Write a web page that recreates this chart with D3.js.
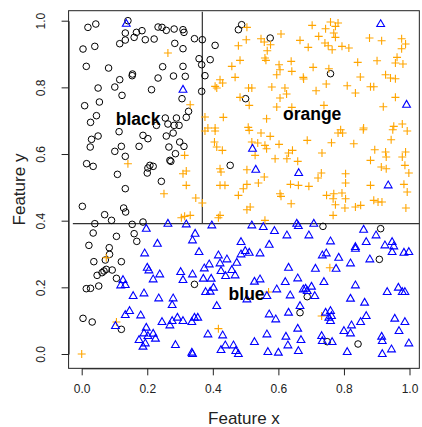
<!DOCTYPE html>
<html lang="en">
<head>
<meta charset="UTF-8">
<title>Feature scatter</title>
<style>
  body { margin: 0; background: #fff; }
  text { font-family: "Liberation Sans", Arial, sans-serif; }
</style>
</head>
<body>
<svg id="chart" width="422" height="427"></svg>
<script src="https://d3js.org/d3.v7.min.js"></script>
<script>

// points, [feature x, feature y]
let blackPts = [
  [0.019,0.98],[0.043,0.99],[0.141,1.0],[0.133,0.963],[0.167,0.965],[0.184,0.97],[0.16,0.95],[0.133,0.942],
  [0.116,0.931],[0.194,0.943],[0.221,0.945],[0.233,0.981],[0.245,0.98],[0.258,0.971],[0.282,0.975],[0.309,0.973],
  [0.312,0.965],[0.284,0.932],[0.309,0.916],[0.004,0.915],[0.04,0.923],[0.014,0.863],[0.082,0.858],[0.155,0.84],
  [0.154,0.835],[0.233,0.828],[0.247,0.862],[0.28,0.834],[0.309,0.863],[0.316,0.833],[0.116,0.823],[0.101,0.801],
  [0.05,0.798],[0.213,0.793],[0.306,0.766],[0.123,0.776],[0.054,0.756],[0.009,0.745],[0.045,0.715],[0.027,0.695],
  [0.255,0.708],[0.289,0.708],[0.319,0.71],[0.228,0.686],[0.263,0.69],[0.282,0.686],[0.297,0.686],
  [0.344,0.946],[0.368,0.943],[0.407,0.926],[0.358,0.886],[0.392,0.883],[0.366,0.868],[0.376,0.835],[0.366,0.788],
  [0.488,0.988],[0.478,0.973],[0.575,0.948],[0.5,0.766],[0.326,0.728],[0.759,0.841],
  [0.114,0.667],[0.05,0.654],[0.03,0.644],[0.026,0.621],[0.187,0.656],[0.202,0.646],[0.121,0.623],[0.101,0.608],
  [0.175,0.623],[0.258,0.654],[0.279,0.663],[0.299,0.636],[0.266,0.621],[0.312,0.623],[0.286,0.601],[0.133,0.593],
  [0.269,0.581],[0.272,0.578],[0.015,0.571],[0.035,0.563],[0.208,0.566],[0.218,0.563],[0.202,0.558],[0.2,0.543],
  [0.109,0.539],[0.243,0.518],[0.133,0.496],[0.002,0.443],[0.128,0.438],[0.134,0.426],[0.07,0.418],[0.04,0.391],
  [0.091,0.401],[0.154,0.389],[0.187,0.396],[0.035,0.363],[0.106,0.353],[0.16,0.361],[0.168,0.338],[0.022,0.326],
  [0.084,0.319],[0.453,0.566],[0.736,0.383],[0.912,0.376],
  [0.085,0.299],[0.072,0.282],[0.037,0.277],[0.121,0.277],[0.075,0.254],[0.068,0.249],[0.093,0.252],[0.062,0.244],
  [0.047,0.236],[0.106,0.227],[0.052,0.204],[0.027,0.197],[0.014,0.196],[0.004,0.107],[0.032,0.096],[0.121,0.074],
  [0.344,0.209],[0.666,0.124],[0.908,0.284],[0.688,0.172],[0.749,0.037],[0.843,0.03]
];

let orangePts = [
  [0.263,0.903],
  [0.504,0.98],[0.502,0.943],[0.478,0.925],[0.666,0.941],[0.547,0.946],[0.557,0.936],[0.576,0.928],[0.566,0.91],
  [0.608,0.96],[0.559,0.888],[0.562,0.881],[0.483,0.881],[0.458,0.863],[0.468,0.83],[0.602,0.868],[0.605,0.853],
  [0.639,0.878],[0.595,0.838],[0.641,0.848],[0.676,0.83],[0.422,0.823],[0.43,0.813],[0.407,0.803],[0.412,0.798],
  [0.509,0.798],[0.519,0.798],[0.58,0.801],[0.62,0.798],[0.625,0.78],[0.605,0.768],[0.595,0.741],[0.483,0.77],
  [0.511,0.746],[0.641,0.74],[0.331,0.748],[0.376,0.711],[0.432,0.71],[0.564,0.706],[0.385,0.678],[0.407,0.678],
  [0.508,0.68],
  [0.703,0.986],[0.759,0.996],[0.782,0.993],[0.774,0.983],[0.744,0.976],[0.769,0.963],[0.723,0.953],[0.774,0.95],
  [0.742,0.933],[0.752,0.925],[0.764,0.913],[0.691,0.92],[0.794,0.923],[0.815,0.918],[0.878,0.948],[0.915,0.94],
  [0.976,0.946],[0.988,0.93],[0.976,0.916],[0.962,0.89],[0.957,0.873],[0.98,0.87],[0.901,0.88],[0.842,0.875],
  [0.706,0.86],[0.754,0.856],[0.927,0.838],[0.942,0.828],[0.957,0.826],[0.85,0.831],[0.677,0.825],[0.746,0.81],
  [0.81,0.805],[0.881,0.802],[0.891,0.802],[0.835,0.783],[0.715,0.79],[0.957,0.77],[0.92,0.742],[0.739,0.746],
  [0.978,0.69],[0.952,0.683],[0.86,0.678],[0.79,0.673],
  [0.141,0.571],[0.314,0.596],[0.309,0.541],[0.319,0.549],[0.319,0.506],[0.251,0.481],[0.304,0.409],[0.314,0.413],
  [0.376,0.669],[0.407,0.669],[0.511,0.671],[0.547,0.663],[0.575,0.653],[0.519,0.636],[0.537,0.633],[0.559,0.626],
  [0.564,0.616],[0.602,0.629],[0.529,0.596],[0.405,0.636],[0.412,0.621],[0.429,0.611],[0.643,0.611],[0.631,0.603],
  [0.626,0.586],[0.659,0.578],[0.59,0.586],[0.504,0.553],[0.422,0.556],[0.425,0.546],[0.557,0.531],[0.422,0.506],
  [0.437,0.506],[0.539,0.513],[0.504,0.509],[0.493,0.496],[0.478,0.476],[0.605,0.481],[0.608,0.473],[0.637,0.509],
  [0.661,0.506],[0.639,0.451],[0.348,0.468],[0.368,0.453],[0.514,0.441],[0.504,0.433],[0.422,0.416],[0.417,0.409],
  [0.559,0.401],[0.331,0.416],
  [0.782,0.663],[0.796,0.663],[0.859,0.673],[0.949,0.673],[0.993,0.669],[0.688,0.641],[0.762,0.634],[0.83,0.631],
  [0.944,0.643],[0.894,0.613],[0.927,0.606],[0.929,0.591],[0.881,0.581],[0.978,0.591],[0.988,0.606],[0.986,0.566],
  [0.998,0.543],[0.914,0.561],[0.929,0.556],[0.733,0.603],[0.731,0.543],[0.721,0.528],[0.805,0.541],[0.805,0.513],
  [0.693,0.503],[0.881,0.506],[0.983,0.509],[0.993,0.486],[0.747,0.476],[0.769,0.481],[0.794,0.483],[0.767,0.466],
  [0.805,0.466],[0.774,0.448],[0.803,0.438],[0.835,0.441],[0.851,0.446],[0.891,0.461],[0.904,0.456],[0.916,0.456],
  [0.989,0.438],[0.767,0.416],
  [0.075,0.289],[0.106,0.096],[0.0,0.0],[0.57,0.186],[0.417,0.076],[0.757,0.259],[0.732,0.114]
];

let bluePts = [
  [0.136,0.991],[0.309,0.793],[0.912,0.99],[0.991,0.748],
  [0.197,0.376],[0.263,0.391],[0.319,0.389],[0.231,0.331],
  [0.521,0.616],[0.531,0.553],[0.662,0.543],[0.397,0.386],[0.519,0.386],[0.554,0.381],[0.588,0.369],[0.626,0.356],
  [0.656,0.391],[0.661,0.384],[0.346,0.361],[0.338,0.341],[0.486,0.336],[0.572,0.328],
  [0.935,0.506],[0.708,0.391],[0.693,0.356],[0.759,0.338],[0.86,0.373],[0.898,0.356],[0.868,0.336],[0.835,0.321],
  [0.925,0.326],[0.947,0.336],[0.952,0.323],
  [0.192,0.302],[0.2,0.259],[0.205,0.251],[0.238,0.239],[0.218,0.224],[0.302,0.246],[0.309,0.222],[0.126,0.222],
  [0.119,0.206],[0.133,0.207],[0.19,0.182],[0.157,0.174],[0.235,0.167],[0.279,0.167],[0.276,0.147],[0.146,0.129],
  [0.133,0.117],[0.18,0.116],[0.103,0.084],[0.245,0.096],[0.269,0.086],[0.276,0.099],[0.292,0.109],[0.309,0.099],
  [0.197,0.079],[0.19,0.062],[0.218,0.061],[0.175,0.042],[0.202,0.054],[0.225,0.046],[0.194,0.032],[0.187,0.022],
  [0.286,0.027],
  [0.358,0.306],[0.417,0.296],[0.443,0.284],[0.389,0.269],[0.374,0.257],[0.422,0.272],[0.473,0.274],[0.425,0.249],
  [0.458,0.252],[0.439,0.234],[0.468,0.236],[0.499,0.309],[0.511,0.304],[0.486,0.299],[0.544,0.302],[0.631,0.259],
  [0.659,0.227],[0.621,0.216],[0.544,0.224],[0.527,0.217],[0.595,0.194],[0.636,0.176],[0.338,0.239],[0.371,0.226],
  [0.395,0.226],[0.402,0.199],[0.392,0.187],[0.378,0.186],[0.504,0.164],[0.565,0.174],[0.412,0.144],[0.676,0.194],
  [0.666,0.144],[0.572,0.119],[0.592,0.104],[0.631,0.124],[0.659,0.076],[0.344,0.109],[0.354,0.109],[0.336,0.096],
  [0.385,0.059],[0.43,0.056],[0.565,0.059],[0.623,0.052],[0.629,0.026],[0.669,0.042],[0.527,0.036],[0.438,0.026],
  [0.463,0.026],[0.425,0.012],[0.47,0.009],[0.478,0.0],[0.336,0.004],[0.338,0.0],[0.568,0.006],[0.6,0.004],
  [0.661,0.009],
  [0.734,0.296],[0.746,0.302],[0.784,0.289],[0.713,0.256],[0.776,0.256],[0.82,0.272],[0.835,0.316],[0.879,0.284],
  [0.947,0.306],[0.983,0.304],[0.998,0.306],[0.739,0.216],[0.835,0.206],[0.683,0.196],[0.701,0.202],[0.711,0.174],
  [0.688,0.189],[0.82,0.166],[0.863,0.154],[0.932,0.186],[0.966,0.199],[0.978,0.186],[0.986,0.186],[0.744,0.124],
  [0.759,0.129],[0.762,0.114],[0.754,0.109],[0.759,0.099],[0.868,0.114],[0.851,0.096],[0.823,0.086],[0.8,0.069],
  [0.82,0.062],[0.734,0.039],[0.732,0.054],[0.764,0.036],[0.81,0.006],[0.915,0.052],[0.917,0.039],[0.955,0.106],
  [0.986,0.096],[0.968,0.069],[0.998,0.032],[0.945,0.014],[0.917,0.0]
];

let ticks = [0, 0.2, 0.4, 0.6, 0.8, 1.0];
let splitX = 0.368, splitY = 0.391;
let classLabels = [
  {text: "black", x: 0.172, y: 0.688},
  {text: "orange", x: 0.703, y: 0.703},
  {text: "blue", x: 0.503, y: 0.162}
];

let svg = d3.select("#chart");

// R style: data range padded 4% on each side
let x = d3.scaleLinear().domain([0, 1]).range([81.7, 409.5]);
let y = d3.scaleLinear().domain([0, 1]).range([354, 20.7]);

let boxL = x(-0.04), boxR = x(1.03), boxT = y(1.03), boxB = y(-0.043);

let xAxis = svg.append("g")
    .attr("transform", "translate(0," + boxB + ")")
    .call(d3.axisBottom(x).tickValues(ticks).tickFormat(d3.format(".1f")).tickSizeInner(7).tickSizeOuter(0).tickPadding(12));
let yAxis = svg.append("g")
    .attr("transform", "translate(" + boxL + ",0)")
    .call(d3.axisLeft(y).tickValues(ticks).tickFormat(d3.format(".1f")).tickSizeInner(7).tickSizeOuter(0));

svg.selectAll(".domain").attr("stroke", "#222");
svg.selectAll(".tick line").attr("stroke", "#222");
svg.selectAll(".tick text")
    .attr("fill", "#222")
    .style("font-size", "12px")
    .style("font-family", "'Liberation Sans', Arial, sans-serif");
xAxis.selectAll(".tick text").attr("dy", "0.45em");
yAxis.selectAll(".tick text")
    .attr("x", null).attr("dy", null)
    .attr("text-anchor", "middle")
    .attr("transform", "translate(-24,0) rotate(-90)")
    .attr("y", 0);

// box
svg.append("rect")
    .attr("x", boxL).attr("y", boxT)
    .attr("width", boxR - boxL).attr("height", boxB - boxT)
    .attr("fill", "none").attr("stroke", "#222").attr("stroke-width", 1);

// decision boundaries
svg.append("line")
    .attr("x1", x(-0.027)).attr("x2", boxR)
    .attr("y1", y(splitY)).attr("y2", y(splitY))
    .attr("stroke", "#333").attr("stroke-width", 1.2);
svg.append("line")
    .attr("x1", x(splitX)).attr("x2", x(splitX))
    .attr("y1", y(splitY)).attr("y2", y(1.027))
    .attr("stroke", "#333").attr("stroke-width", 1.2);

// points
svg.append("g").selectAll("circle")
    .data(blackPts)
    .enter()
    .append("circle")
    .attr("cx", d => x(d[0]))
    .attr("cy", d => y(d[1]))
    .attr("r", 3.3)
    .attr("fill", "none")
    .attr("stroke", "black")
    .attr("stroke-width", 1);

svg.append("g").selectAll("path")
    .data(orangePts)
    .enter()
    .append("path")
    .attr("d", "M-4,0H4M0,-4V4")
    .attr("transform", d => "translate(" + x(d[0]) + "," + y(d[1]) + ")")
    .attr("fill", "none")
    .attr("stroke", "orange")
    .attr("stroke-width", 1.1);

svg.append("g").selectAll("path")
    .data(bluePts)
    .enter()
    .append("path")
    .attr("d", "M0,-4.3L3.9,2.5H-3.9Z")
    .attr("transform", d => "translate(" + x(d[0]) + "," + y(d[1]) + ")")
    .attr("fill", "none")
    .attr("stroke", "blue")
    .attr("stroke-width", 1.1);

// class labels
svg.append("g").selectAll("text")
    .data(classLabels)
    .enter()
    .append("text")
    .attr("x", d => x(d.x))
    .attr("y", d => y(d.y))
    .attr("text-anchor", "middle")
    .style("font-size", "17.5px")
    .style("font-weight", "bold")
    .attr("fill", "black")
    .text(d => d.text);

// axis titles
svg.append("text")
    .attr("x", (boxL + boxR) / 2)
    .attr("y", 423.5)
    .attr("text-anchor", "middle")
    .style("font-size", "17px")
    .attr("fill", "#222")
    .text("Feature x");
svg.append("text")
    .attr("transform", "translate(25," + ((boxT + boxB) / 2) + ") rotate(-90)")
    .attr("text-anchor", "middle")
    .style("font-size", "17px")
    .attr("fill", "#222")
    .text("Feature y");

</script>
</body>
</html>
